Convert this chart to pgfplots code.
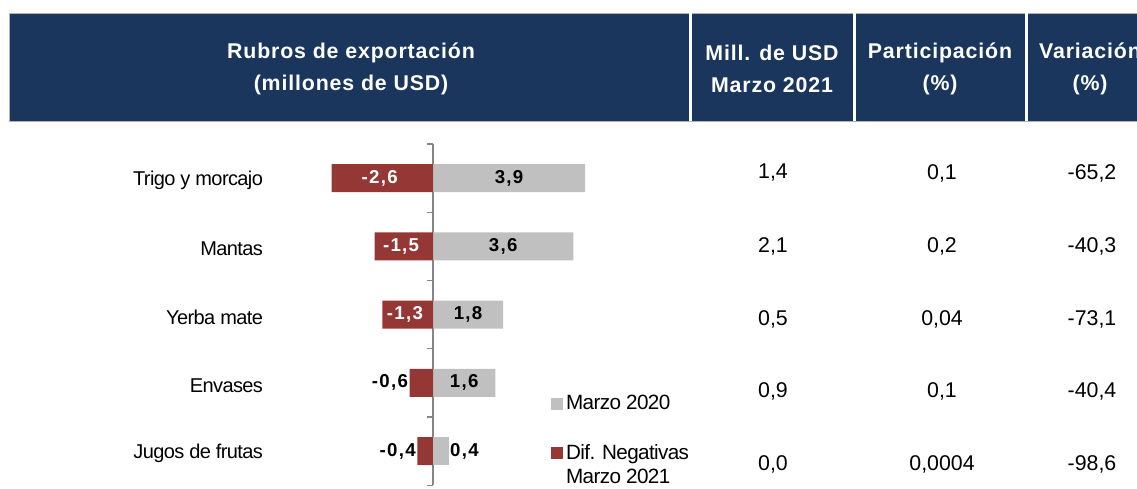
\documentclass[border=0pt]{standalone}
\usepackage{fontspec}
\setmainfont{Liberation Sans}
\newfontfamily\spaced[LetterSpace=4]{Liberation Sans}
\newfontfamily\wide[LetterSpace=7]{Liberation Sans}
\newfontfamily\tight[LetterSpace=-3]{Liberation Sans}
\usepackage{pgfplots}
\usepackage{pgfplotstable}
\pgfplotsset{compat=1.18}

\definecolor{navy}{HTML}{1A365D}
\definecolor{barred}{HTML}{953735}
\definecolor{bargray}{HTML}{C0C0C0}
\definecolor{axgray}{HTML}{868686}

\newcommand\hdrfont{\spaced\bfseries\fontsize{16}{24}\selectfont}
\newcommand\valfont{\fontsize{16}{19}\selectfont}
\newcommand\catfont{\tight\fontsize{15}{17}\selectfont}
\newcommand\legfont{\tight\fontsize{15.5}{18}\selectfont}
\newcommand\barfont{\wide\bfseries\fontsize{14}{16}\selectfont}

% bars: 1 = Trigo y morcajo ... 5 = Jugos de frutas
\pgfplotstableread{
y v
1 3.9
2 3.6
3 1.8
4 1.6
}\grayin
\pgfplotstableread{
y v
5 0.4
}\grayout
\pgfplotstableread{
y v
1 -2.6
2 -1.5
3 -1.3
}\redin
\pgfplotstableread{
y v
4 -0.6
5 -0.4
}\redout

% table columns (pixel positions)
\pgfplotstableread{
x y t
773 173 1,4
942 173 0,1
1092 173 -65,2
773 246 2,1
942 246 0,2
1092 246 -40,3
773 319 0,5
942 319 0,04
1092 319 -73,1
773 391 0,9
942 391 0,1
1092 391 -40,4
773 464 0,0
942 464 0,0004
1092 464 -98,6
}\tabvals

\begin{document}
\begin{tikzpicture}
\begin{scope}[x=0.75pt,y=-0.75pt]
\useasboundingbox (0,0) rectangle (1137,481);
\coordinate (TL) at (0,0);
\coordinate (A) at (277,144);
\fill[navy] (9,13) rectangle (1137,121);
\draw[gray!60, line width=0.6pt] (9,13) rectangle (1140,121);
\fill[white] (689,13) rectangle (692,121);
\fill[white] (853,13) rectangle (856,121);
\fill[white] (1025,13) rectangle (1028,121);
\node[white, font=\hdrfont, align=center] at (351,69) {Rubros de exportación\\(millones de USD)};
\node[white, font=\hdrfont, align=center] at (772,69) {Mill. de USD\\Marzo 2021};
\node[white, font=\hdrfont, align=center] at (940,69) {Participación\\(\%)};
\node[white, font=\hdrfont, align=center] at (1090,69) {Variación\\(\%)};
\end{scope}

\begin{axis}[
  at={(TL)}, anchor=north west,
  x=0.75pt, y=0.75pt, y dir=reverse,
  xmin=0, xmax=1137, ymin=0, ymax=481,
  hide axis, clip=false,
]
\addplot[only marks, mark=none,
  nodes near coords, point meta=explicit symbolic,
  every node near coord/.append style={anchor=center, font=\valfont, black}]
  table[x=x, y=y, meta=t] {\tabvals};
\end{axis}

\begin{axis}[
  at={(A)}, anchor=north west,
  x=29.25pt, y=51.1875pt, y dir=reverse,
  xmin=-4, xmax=4, ymin=0.5, ymax=5.5,
  axis x line=none, axis y line=center,
  axis line style={draw=axgray, line width=1pt, -},
  ytick={1,2,3,4,5},
  yticklabels={Trigo y morcajo,Mantas,Yerba mate,Envases,Jugos de frutas},
  major tick length=0pt,
  minor ytick={0.5,1.5,2.5,3.5,4.5,5.5},
  minor tick length=4.5pt,
  tick align=outside,
  tick style={draw=axgray, line width=1pt},
  yticklabel style={font=\catfont, xshift=-124pt, yshift=-2pt},
  xbar, bar width=21pt, bar shift=0pt,
  clip=false,
  nodes near coords={\pgfmathprintnumber[use comma, fixed, fixed zerofill, precision=1, assume math mode=true]{\pgfplotspointmeta}},
  nodes near coords style={font=\barfont},
  legend image code/.code={\fill[bargray] (0pt,-4.5pt) rectangle (9pt,4.5pt);},
  legend style={at={(axis cs:3.03,4.14)}, anchor=north west, draw=none, fill=none,
    font=\legfont, inner sep=0pt, row sep=20.5pt,
    cells={anchor=west, align=left}},
]
\addplot[fill=bargray, draw=none,
  visualization depends on={rawx \as \vx},
  every node near coord/.append style={anchor=center, black, shift={(axis direction cs:{-0.5*(\vx)},0)}}]
  table[x=v, y=y] {\grayin};
\addlegendentry{Marzo 2020}
\addplot[fill=barred, draw=none,
  legend image code/.code={\fill[barred] (0pt,4.5pt) rectangle (9pt,13.5pt);},
  visualization depends on={rawx \as \vx},
  every node near coord/.append style={anchor=center, white, xshift=-2pt, shift={(axis direction cs:{-0.5*(\vx)},0)}}]
  table[x=v, y=y] {\redin};
\addlegendentry{Dif. Negativas\\Marzo 2021}
\addplot[fill=barred, draw=none, forget plot,
  every node near coord/.append style={anchor=east, black, inner sep=1pt}]
  table[x=v, y=y] {\redout};
\addplot[fill=bargray, draw=none, forget plot,
  every node near coord/.append style={anchor=west, black, inner sep=1pt}]
  table[x=v, y=y] {\grayout};
\end{axis}
\end{tikzpicture}
\end{document}
